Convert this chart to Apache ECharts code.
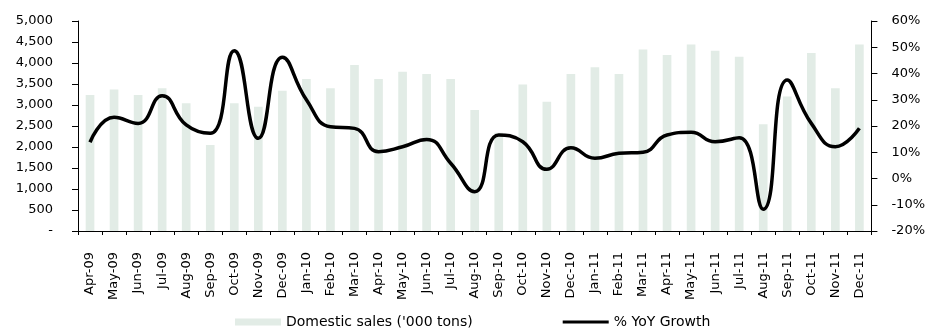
<!DOCTYPE html>
<html>
<head>
<meta charset="utf-8">
<script src="https://cdn.jsdelivr.net/npm/echarts@6/dist/echarts.min.js"></script>
<style>
  html, body { margin: 0; padding: 0; background: #fff; }
  #chart { width: 928px; height: 331px; }
</style>
</head>
<body>
<div id="chart"></div>
<script>
// Monthly periods
const months = [
  'Apr-09','May-09','Jun-09','Jul-09','Aug-09','Sep-09','Oct-09','Nov-09','Dec-09',
  'Jan-10','Feb-10','Mar-10','Apr-10','May-10','Jun-10','Jul-10','Aug-10','Sep-10','Oct-10','Nov-10','Dec-10',
  'Jan-11','Feb-11','Mar-11','Apr-11','May-11','Jun-11','Jul-11','Aug-11','Sep-11','Oct-11','Nov-11','Dec-11'
];

// Domestic sales, '000 tons
const domesticSales = [
  3240, 3370, 3240, 3400, 3040, 2050, 3040, 2960, 3340,
  3620, 3400, 3950, 3620, 3790, 3740, 3620, 2880, 2340, 3490, 3080, 3740,
  3900, 3740, 4320, 4190, 4440, 4290, 4150, 2540, 3200, 4240, 3400, 4440
];

// Year-on-year growth, %
const yoyGrowth = [
  13.8, 23.3, 21.0, 31.5, 20.4, 17.2, 48.7, 15.3, 46.2,
  30.0, 19.7, 19.1, 10.2, 12.1, 14.9, 5.8, -5.0, 16.6, 14.0, 3.5, 11.7,
  7.7, 9.6, 10.0, 16.6, 17.6, 14.0, 15.5, -11.7, 37.5, 21.0, 12.1, 19.1
];

// Axis ranges
const salesAxis = { min: 0, max: 5000, step: 500 };
const growthAxis = { min: -20, max: 60, step: 10 };

const FONT = '"DejaVu Sans", sans-serif';
const labelStyle = { color: '#000', fontSize: 13, fontFamily: FONT };

const chart = echarts.init(document.getElementById('chart'));
chart.setOption({
  animation: false,
  textStyle: { fontFamily: FONT },
  grid: { left: 78, right: 55, top: 21, bottom: 100 },
  legend: {
    left: 235,
    top: 315,
    padding: 0,
    itemWidth: 46,
    itemHeight: 7,
    itemGap: 90,
    textStyle: { color: '#000', fontSize: 14, fontFamily: FONT },
    data: [
      { name: "Domestic sales ('000 tons)", icon: 'path://M0,0H46V7H0Z' },
      { name: '% YoY Growth', icon: 'path://M0,0H46V3H0Z' }
    ]
  },
  xAxis: {
    type: 'category',
    data: months,
    boundaryGap: true,
    axisLine: { lineStyle: { color: '#000', width: 1 } },
    axisTick: { show: true, length: 4, lineStyle: { color: '#000' } },
    axisLabel: Object.assign({ rotate: 90, margin: 21, interval: 0 }, labelStyle),
    splitLine: { show: false }
  },
  yAxis: [
    {
      type: 'value',
      min: salesAxis.min, max: salesAxis.max, interval: salesAxis.step,
      axisLine: { show: true, lineStyle: { color: '#000', width: 1 } },
      axisTick: { show: true, length: 6, lineStyle: { color: '#000' } },
      axisLabel: Object.assign({
        margin: 25,
        formatter: v => v === 0 ? '-' : v.toLocaleString('en-US')
      }, labelStyle),
      splitLine: { show: false }
    },
    {
      type: 'value',
      min: growthAxis.min, max: growthAxis.max, interval: growthAxis.step,
      axisLine: { show: true, lineStyle: { color: '#000', width: 1 } },
      axisTick: { show: true, length: 6, lineStyle: { color: '#000' } },
      axisLabel: Object.assign({ margin: 20, formatter: '{value}%' }, labelStyle),
      splitLine: { show: false }
    }
  ],
  series: [
    {
      name: "Domestic sales ('000 tons)",
      type: 'bar',
      yAxisIndex: 0,
      data: domesticSales,
      barWidth: '36%',
      itemStyle: { color: '#e2ece6' }
    },
    {
      name: '% YoY Growth',
      type: 'line',
      yAxisIndex: 1,
      data: yoyGrowth,
      smooth: 0.5,
      symbol: 'none',
      lineStyle: { color: '#000', width: 3.5 },
      itemStyle: { color: '#000' }
    }
  ]
});
</script>
</body>
</html>
